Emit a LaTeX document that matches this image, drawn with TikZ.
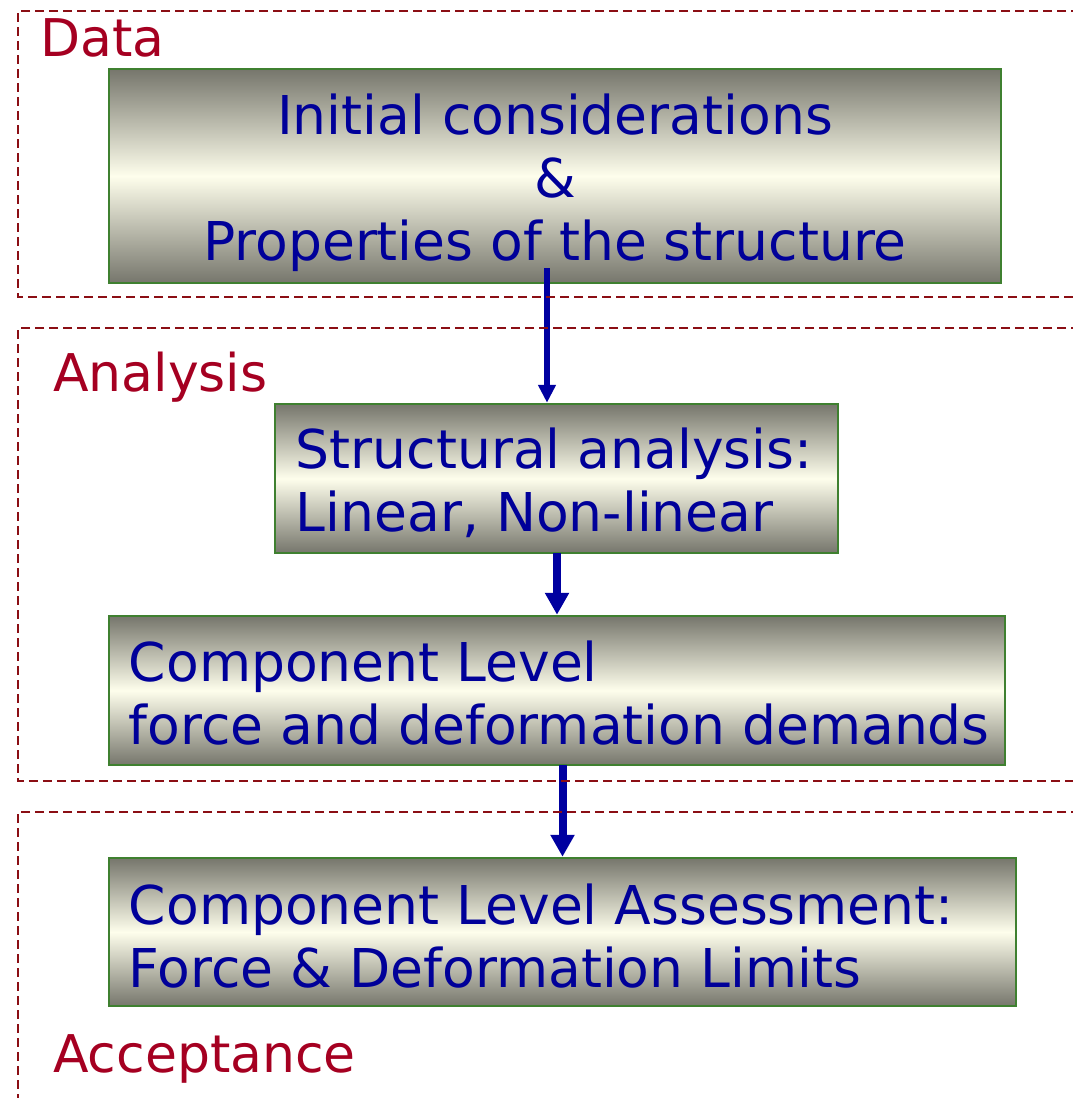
\documentclass[tikz,border=0pt]{standalone}
\usepackage{fontspec}
\setmainfont{DejaVu Sans}
\usetikzlibrary{arrows.meta}
\definecolor{txtblue}{HTML}{000099}
\definecolor{arrblue}{HTML}{0000A0}
\definecolor{lblred}{HTML}{A50021}
\definecolor{frame}{HTML}{8B0E14}
\definecolor{boxgreen}{HTML}{3F8030}
\definecolor{shadedark}{HTML}{76766C}
\definecolor{shadelight}{HTML}{FEFEEC}
\tikzset{
  stagebox/.style={draw=boxgreen, line width=2.5pt, top color=shadedark,
    bottom color=shadedark, middle color=shadelight, inner sep=0pt},
  boxtext/.style={inner sep=0pt, text=txtblue, align=left,
    font=\fontsize{53.5}{63}\selectfont},
  stagelabel/.style={inner sep=0pt, anchor=base west, text=lblred,
    font=\fontsize{52}{63}\selectfont},
  zone/.style={draw=frame, line width=2.2pt, dash pattern=on 9pt off 5pt},
  flow/.style={draw=arrblue, line width=8pt,
    -{Triangle[width=23pt,length=22pt]}},
}
\begin{document}
\begin{tikzpicture}[x=1pt,y=-1pt]
\useasboundingbox (0,0) rectangle (1072,1098);

% process boxes
\node[stagebox, minimum width=892pt, minimum height=214pt] (b1) at (555,176) {};
\node[stagebox, minimum width=563pt, minimum height=149pt] (b2) at (556.5,478.5) {};
\node[stagebox, minimum width=896pt, minimum height=149pt] (b3) at (557,690.5) {};
\node[stagebox, minimum width=907pt, minimum height=148pt] (b4) at (562.5,932) {};

% box texts
\node[boxtext, align=center] (t1) at ([yshift=-7pt]b1.center)
  {Initial considerations\\\&\\Properties of the structure};
\node[boxtext, anchor=west] (t2) at ([xshift=22pt,yshift=-4pt]b2.west)
  {Structural analysis:\\Linear, Non-linear};
\node[boxtext, anchor=west] (t3) at ([xshift=21pt,yshift=-3pt]b3.west)
  {Component Level\\force and deformation demands};
\node[boxtext, anchor=west] (t4) at ([xshift=21pt,yshift=-4pt]b4.west)
  {Component Level Assessment:\\Force \& Deformation Limits};

% flow arrows
\coordinate (s1) at (547,268);
\draw[flow, line width=6pt, -{Triangle[width=17pt,length=18pt]}] (s1) -- (s1 |- b2.north);
\coordinate (s2) at (557,553);
\draw[flow] (s2) -- (s2 |- b3.north);
\coordinate (s3) at (562.5,765);
\draw[flow] (s3) -- (s3 |- b4.north);

% stage zones, open to the right
\draw[zone] (1080,11) -- (18,11) -- (18,297) -- (1080,297);
\draw[zone] (1080,328) -- (18,328) -- (18,781) -- (1080,781);
\draw[zone] (1080,812) -- (18,812) -- (18,1110);

% stage labels
\node[stagelabel] (l1) at (40,56) {Data};
\node[stagelabel] (l2) at (53,391) {Analysis};
\node[stagelabel] (l3) at (53,1072) {Acceptance};
\end{tikzpicture}
\end{document}
